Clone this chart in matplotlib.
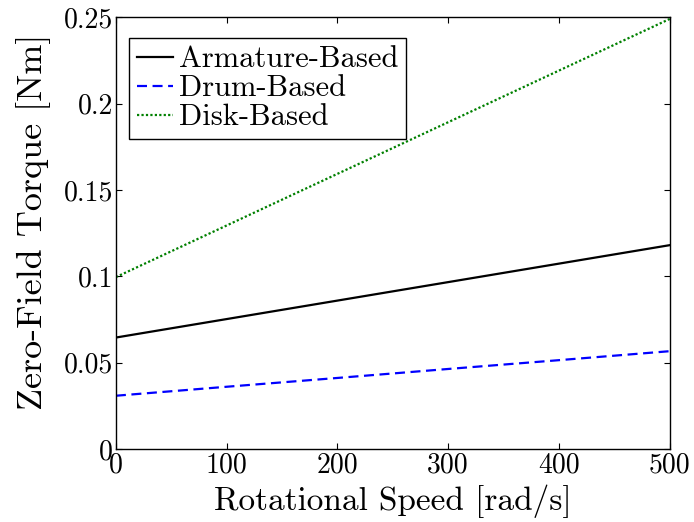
import matplotlib
matplotlib.use("Agg")
import matplotlib.pyplot as plt

plt.rcParams["font.family"] = "serif"
plt.rcParams["font.serif"] = ["cmr10"]
plt.rcParams["mathtext.fontset"] = "cm"
plt.rcParams["axes.formatter.use_mathtext"] = True

speed = [0, 100, 200, 300, 400, 500]
armature = [0.0645, 0.0752, 0.0859, 0.0966, 0.1073, 0.1180]
drum = [0.0308, 0.0360, 0.0411, 0.0463, 0.0514, 0.0566]
disk = [0.0995, 0.1294, 0.1593, 0.1892, 0.2191, 0.2490]

xticks = [0, 100, 200, 300, 400, 500]
yticks = [0, 0.05, 0.1, 0.15, 0.2, 0.25]
ytick_labels = ["0", "0.05", "0.1", "0.15", "0.2", "0.25"]

fig = plt.figure(figsize=(6.94, 5.22), dpi=100)
ax = fig.add_axes([0.167, 0.140, 0.798, 0.827])

ax.plot(speed, armature, color="black", lw=1.6, label="Armature-Based")
ax.plot(speed, drum, color="blue", lw=1.6, ls=(0, (4.5, 2.5)), label="Drum-Based")
ax.plot(speed, disk, color=(0, 0.5, 0), lw=1.6, ls=(0, (1, 1)), label="Disk-Based")

ax.set_xlim(0, 500)
ax.set_ylim(0, 0.25)
ax.set_xticks(xticks)
ax.set_xticklabels([str(t) for t in xticks])
ax.set_yticks(yticks)
ax.set_yticklabels(ytick_labels)
ax.tick_params(direction="in", top=True, right=True, length=4.5, width=0.8,
               labelsize=20, pad=2)
for s in ax.spines.values():
    s.set_linewidth(1.0)

ax.set_xlabel("Rotational Speed [rad/s]", fontsize=24, labelpad=5)
ax.set_ylabel("Zero-Field Torque [Nm]", fontsize=26)
ax.yaxis.set_label_coords(-0.118, 0.525)

leg = ax.legend(loc="upper left", bbox_to_anchor=(0.0235, 0.951), borderaxespad=0,
                fontsize=22, frameon=True, fancybox=False, edgecolor="black",
                framealpha=1, handlelength=1.2, handletextpad=0.2,
                labelspacing=0.05, borderpad=0.25)
leg.get_frame().set_linewidth(1.0)

fig.savefig("out.png", dpi=100)
